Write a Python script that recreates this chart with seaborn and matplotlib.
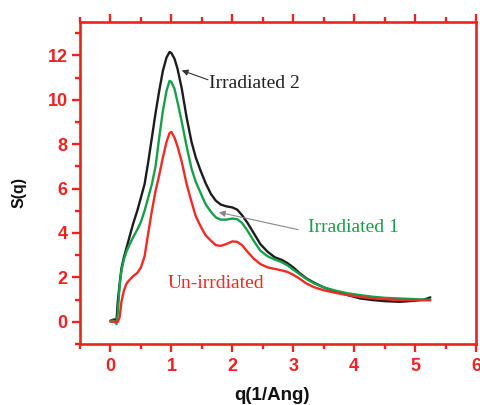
import matplotlib
matplotlib.use("Agg")
import matplotlib.pyplot as plt
from matplotlib.ticker import MultipleLocator
import seaborn as sns
import pandas as pd

# ---- data ----
q = [0.0, 0.05, 0.1, 0.12, 0.15, 0.18, 0.22, 0.26, 0.3, 0.37, 0.44, 0.5, 0.56,
     0.62, 0.68, 0.74, 0.8, 0.86, 0.92, 0.97, 1.0, 1.05, 1.1, 1.17, 1.25, 1.33,
     1.4, 1.48, 1.56, 1.65, 1.73, 1.81, 1.9, 2.0, 2.08, 2.16, 2.25, 2.35, 2.46,
     2.58, 2.7, 2.8, 2.9, 3.0, 3.1, 3.22, 3.35, 3.5, 3.7, 3.9, 4.1, 4.3, 4.5,
     4.75, 5.0, 5.15, 5.25]

irradiated2 = [0.05, 0.1, 0.1, 0.9, 1.7, 2.4, 2.9, 3.3, 3.7, 4.4, 5.0, 5.6, 6.2,
               7.2, 8.3, 9.4, 10.4, 11.3, 11.9, 12.15, 12.1, 11.85, 11.4, 10.5,
               9.2, 8.1, 7.4, 6.8, 6.25, 5.75, 5.45, 5.28, 5.2, 5.15, 5.05, 4.8,
               4.45, 4.0, 3.5, 3.15, 2.9, 2.8, 2.65, 2.45, 2.2, 1.95, 1.75, 1.55,
               1.35, 1.2, 1.05, 0.98, 0.93, 0.9, 0.95, 1.0, 1.1]

irradiated1 = [0.05, 0.05, -0.1, 0.4, 1.6, 2.3, 2.8, 3.15, 3.4, 3.8, 4.15, 4.5,
               5.0, 5.6, 6.2, 7.0, 8.3, 9.5, 10.4, 10.85, 10.8, 10.5, 9.9, 9.0,
               7.9, 6.9, 6.3, 5.8, 5.3, 4.95, 4.7, 4.6, 4.6, 4.65, 4.62, 4.45,
               4.1, 3.65, 3.2, 2.95, 2.8, 2.7, 2.55, 2.35, 2.15, 1.92, 1.72,
               1.55, 1.4, 1.28, 1.2, 1.13, 1.08, 1.05, 1.02, 1.0, 1.0]

unirradiated = [0.0, 0.0, 0.0, 0.0, 0.2, 0.9, 1.4, 1.7, 1.85, 2.05, 2.2, 2.45,
                2.95, 4.0, 5.0, 5.9, 6.6, 7.4, 8.1, 8.5, 8.55, 8.3, 7.9, 7.2, 6.2,
                5.4, 4.75, 4.3, 3.9, 3.65, 3.45, 3.42, 3.5, 3.62, 3.6, 3.45,
                3.15, 2.85, 2.6, 2.45, 2.38, 2.32, 2.25, 2.12, 1.95, 1.72, 1.55,
                1.42, 1.3, 1.2, 1.12, 1.06, 1.02, 0.98, 0.97, 0.97, 0.97]

series_names = ["Irradiated 2", "Irradiated 1", "Un-irrdiated"]
series_colors = ["#1c1c1c", "#17a04a", "#ee2b25"]
x_ticks = [0, 1, 2, 3, 4, 5, 6]
y_ticks = [0, 2, 4, 6, 8, 10, 12]

df = pd.concat([
    pd.DataFrame({"q": q, "S": irradiated2, "series": series_names[0]}),
    pd.DataFrame({"q": q, "S": irradiated1, "series": series_names[1]}),
    pd.DataFrame({"q": q, "S": unirradiated, "series": series_names[2]}),
], ignore_index=True)

sns.set_style("white")
plt.rcParams["font.family"] = ["Liberation Sans", "DejaVu Sans"]

RED = "#ee2222"
fig = plt.figure(figsize=(4.8, 4.05), dpi=100)
ax = fig.add_axes([0.1667, 0.1506, 0.825, 0.7951])

sns.lineplot(data=df, x="q", y="S", hue="series", hue_order=series_names,
             palette=dict(zip(series_names, series_colors)), sort=False,
             estimator=None, linewidth=1.7, legend=False, ax=ax)

ax.set_xlim(-0.5, 6)
ax.set_ylim(-1, 13.5)
ax.set_xticks(x_ticks)
ax.set_yticks(y_ticks)
ax.xaxis.set_minor_locator(MultipleLocator(0.5))
ax.yaxis.set_minor_locator(MultipleLocator(1))

for side, sp in ax.spines.items():
    sp.set_visible(True)
    sp.set_color(RED)
    sp.set_linewidth(1.9)

ax.tick_params(which="both", direction="out", color=RED, width=1.7,
               top=True, right=False, bottom=True, left=True,
               labeltop=False, labelright=False)
ax.tick_params(which="major", length=6)
ax.tick_params(which="minor", length=3.5)
ax.tick_params(axis="x", which="major", pad=4)
ax.tick_params(axis="y", which="major", pad=3)
for lab in ax.get_xticklabels() + ax.get_yticklabels():
    lab.set_color(RED)
    lab.set_fontweight("bold")
    lab.set_fontsize(13)

ax.set_xlabel("q(1/Ang)", fontsize=13.5, fontweight="bold", color="#111111")
ax.set_ylabel("S(q)", fontsize=11.5, fontweight="bold", color="#111111")
ax.xaxis.set_label_coords(0.5 - 6 / 396, -0.133)
ax.yaxis.set_label_coords(-0.134, 0.47)

serif = ["Liberation Serif", "DejaVu Serif"]
ax.text(1.615, 10.75, "Irradiated 2", family=serif, fontsize=14,
        color="#222222", ha="left", va="center")
ax.annotate("", xy=(1.17, 11.32), xytext=(1.60, 10.9),
            arrowprops=dict(arrowstyle="-|>", color="#333333", lw=0.8,
                            mutation_scale=9, shrinkA=0, shrinkB=0))
ax.text(3.25, 4.25, "Irradiated 1", family=serif, fontsize=14,
        color="#17a04a", ha="left", va="center")
ax.annotate("", xy=(1.78, 4.93), xytext=(3.08, 4.15),
            arrowprops=dict(arrowstyle="-|>", color="#888888", lw=0.8,
                            mutation_scale=9, shrinkA=0, shrinkB=0))
ax.text(0.94, 1.73, "Un-irrdiated", family=serif, fontsize=14,
        color="#ee2b25", ha="left", va="center")

fig.savefig("out.png", dpi=100)
